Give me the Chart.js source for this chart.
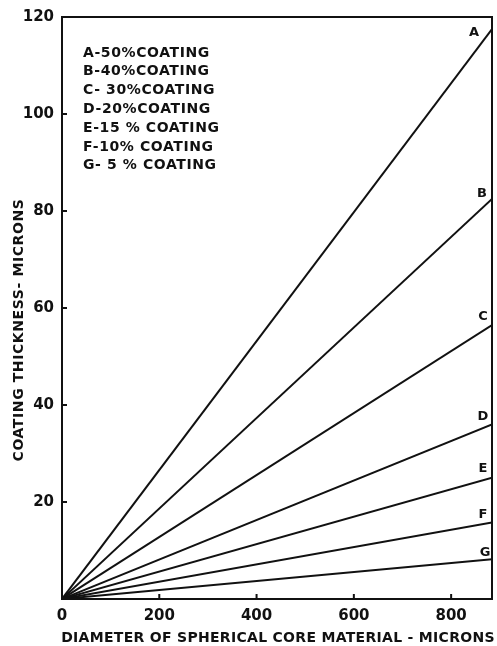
<!DOCTYPE html>
<html>
<head>
<meta charset="utf-8">
<script src="https://cdn.jsdelivr.net/npm/chart.js@4.4.1/dist/chart.umd.min.js"></script>
<style>
  html, body { margin: 0; padding: 0; background: #fff; }
  #wrap { width: 497px; height: 646px; }
</style>
</head>
<body>
<div id="wrap"><canvas id="myChart"></canvas></div>
<script>
// data: straight lines from origin to the right border
var curveNames = ['A', 'B', 'C', 'D', 'E', 'F', 'G'];
var keyLines = ['A-50%COATING', 'B-40%COATING', 'C- 30%COATING', 'D-20%COATING', 'E-15 % COATING', 'F-10% COATING', 'G- 5 % COATING'];
var xEnds = [0, 884];
var thicknessAtEnd = [117.5, 82.5, 56.5, 36, 25, 15.8, 8.2];
var xTicks = [0, 200, 400, 600, 800];
var yTicks = [20, 40, 60, 80, 100, 120];
var xTitle = 'DIAMETER OF SPHERICAL CORE MATERIAL - MICRONS';
var yTitle = 'COATING THICKNESS- MICRONS';

var ink = '#111';
var fontFam = '"DejaVu Sans", sans-serif';

var datasets = curveNames.map(function(name, i) {
    return {
        label: name,
        data: [{x: xEnds[0], y: 0}, {x: xEnds[1], y: thicknessAtEnd[i]}],
        borderColor: ink,
        borderWidth: 2,
        pointRadius: 0,
        fill: false
    };
});

// letter offsets next to line ends (px)
var letterOff = {A: [-18, 3], B: [-10, -5], C: [-9, -8], D: [-9, -8], E: [-9, -9], F: [-9, -8], G: [-7, -7]};

var decor = {
    id: 'decor',
    afterDraw: function(chart) {
        var ctx = chart.ctx, a = chart.chartArea;
        var xs = chart.scales.x, ys = chart.scales.y;
        ctx.save();
        ctx.strokeStyle = ink;
        ctx.lineWidth = 2;
        ctx.strokeRect(a.left, a.top, a.right - a.left, a.bottom - a.top);
        // inward tick marks
        ctx.beginPath();
        xTicks.slice(1).forEach(function(v) {
            var px = xs.getPixelForValue(v);
            ctx.moveTo(px, a.bottom); ctx.lineTo(px, a.bottom - 5);
        });
        yTicks.forEach(function(v) {
            var py = ys.getPixelForValue(v);
            ctx.moveTo(a.left, py); ctx.lineTo(a.left + 5, py);
        });
        ctx.stroke();
        ctx.fillStyle = ink;
        ctx.textBaseline = 'middle';
        // curve letters
        ctx.font = 'bold 13px ' + fontFam;
        ctx.textAlign = 'center';
        curveNames.forEach(function(n, i) {
            var px = xs.getPixelForValue(xEnds[1]) + letterOff[n][0];
            var py = ys.getPixelForValue(thicknessAtEnd[i]) + letterOff[n][1];
            ctx.fillText(n, px, py);
        });
        // key block
        ctx.font = 'bold 14px ' + fontFam;
        ctx.letterSpacing = '0.6px';
        ctx.textAlign = 'left';
        keyLines.forEach(function(t, i) {
            ctx.fillText(t, a.left + 21, 53 + i * 18.8);
        });
        // axis titles
        ctx.font = 'bold 14px ' + fontFam;
        ctx.letterSpacing = '0.3px';
        ctx.textAlign = 'center';
        ctx.fillText(xTitle, (a.left + 494) / 2, 638);
        ctx.save();
        ctx.translate(19, 330);
        ctx.rotate(-Math.PI / 2);
        ctx.letterSpacing = '0.6px';
        ctx.fillText(yTitle, 0, 0);
        ctx.restore();
        ctx.restore();
    }
};

var ctx = document.getElementById('myChart').getContext('2d');
var myChart = new Chart(ctx, {
    type: 'line',
    data: { datasets: datasets },
    options: {
        responsive: true,
        maintainAspectRatio: false,
        animation: false,
        layout: { padding: { top: 17, right: 5, left: 0, bottom: 0 } },
        plugins: { legend: { display: false }, tooltip: { enabled: false } },
        scales: {
            x: {
                type: 'linear',
                min: 0,
                max: xEnds[1],
                grid: { display: false },
                border: { display: false },
                afterBuildTicks: function(s) { s.ticks = xTicks.map(function(v) { return {value: v}; }); },
                afterFit: function(s) { s.height = 47; },
                ticks: { color: ink, font: { family: fontFam, size: 15, weight: 'bold' }, padding: 0, maxRotation: 0 }
            },
            y: {
                min: 0,
                max: 120,
                grid: { display: false },
                border: { display: false },
                afterBuildTicks: function(s) { s.ticks = yTicks.map(function(v) { return {value: v}; }); },
                afterFit: function(s) { s.width = 62; },
                ticks: { color: ink, font: { family: fontFam, size: 15, weight: 'bold' }, padding: 0 }
            }
        }
    },
    plugins: [decor]
});
</script>
</body>
</html>
